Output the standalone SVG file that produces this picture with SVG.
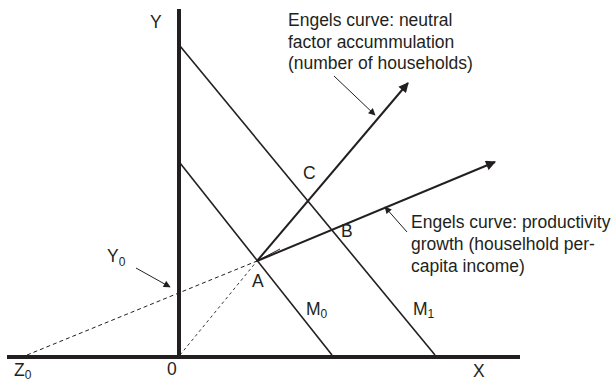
<svg xmlns="http://www.w3.org/2000/svg" width="612" height="382" viewBox="0 0 612 382">
<style>
text{font-family:"Liberation Sans",Arial,sans-serif;fill:#231f20;}
.lbl{font-size:17.5px;}
.sub{font-size:12px;}
.ann{font-size:17.5px;}
.axis{stroke:#231f20;stroke-width:4;fill:none;}
.budget{stroke:#231f20;stroke-width:1.6;fill:none;}
.engel{stroke:#231f20;stroke-width:2;fill:none;}
.dash1{stroke:#231f20;stroke-width:1;stroke-dasharray:4 3;fill:none;}
.dash2{stroke:#231f20;stroke-width:0.9;stroke-dasharray:3 3;fill:none;}
.ptr{stroke:#231f20;stroke-width:1;fill:none;}
</style>
<defs>
<marker id="ah" viewBox="0 0 10 10" refX="9" refY="5" markerWidth="5.5" markerHeight="5" orient="auto" markerUnits="strokeWidth">
<path d="M0,0 L10,5 L0,10 Z" fill="#231f20"/>
</marker>
<marker id="ahs" viewBox="0 0 10 10" refX="9" refY="5" markerWidth="8" markerHeight="7" orient="auto" markerUnits="strokeWidth">
<path d="M0,0 L10,5 L0,10 Z" fill="#231f20"/>
</marker>
</defs>
<g id="connectors">
<line class="axis" x1="179" y1="9" x2="179" y2="357"/>
<line class="axis" x1="7" y1="357" x2="520" y2="357"/>
<line class="budget" x1="180" y1="163" x2="332" y2="355"/>
<line class="budget" x1="180" y1="46" x2="435" y2="355"/>
<line class="dash1" x1="27" y1="355" x2="257" y2="261"/>
<line class="dash2" x1="180" y1="355" x2="257" y2="261"/>
<line class="engel" x1="257" y1="261" x2="408" y2="83" marker-end="url(#ah)"/>
<line class="engel" x1="257" y1="261" x2="495" y2="162" marker-end="url(#ah)"/>
<line class="ptr" x1="257" y1="261" x2="280" y2="249"/>
<line class="ptr" x1="334" y1="76" x2="375" y2="115" marker-end="url(#ahs)"/>
<line class="ptr" x1="407" y1="232" x2="385" y2="207" marker-end="url(#ahs)"/>
<line class="ptr" x1="136" y1="268" x2="170" y2="287" marker-end="url(#ahs)"/>
</g>
<g id="axis-y"><text class="lbl" x="150" y="28">Y</text></g>
<g id="axis-x"><text class="lbl" x="473" y="377">X</text></g>
<g id="origin"><text class="lbl" x="167" y="375">0</text></g>
<g id="Z0"><text class="lbl" x="14" y="376">Z<tspan class="sub" dy="3">0</tspan></text></g>
<g id="Y0"><text class="lbl" x="107" y="262">Y<tspan class="sub" dy="4">0</tspan></text></g>
<g id="A"><text class="lbl" x="252" y="287">A</text></g>
<g id="B"><text class="lbl" x="341" y="237">B</text></g>
<g id="C"><text class="lbl" x="303" y="179">C</text></g>
<g id="M0"><text class="lbl" x="306" y="315">M<tspan class="sub" dy="3">0</tspan></text></g>
<g id="M1"><text class="lbl" x="413" y="315">M<tspan class="sub" dy="3">1</tspan></text></g>
<g id="note-neutral">
<text class="ann" x="288" y="26">Engels curve:  neutral</text>
<text class="ann" x="288" y="47.5">factor accummulation</text>
<text class="ann" x="288" y="69">(number of households)</text>
</g>
<g id="note-productivity">
<text class="ann" x="411" y="228">Engels curve: productivity</text>
<text class="ann" x="411" y="250">growth (houselhold per-</text>
<text class="ann" x="411" y="272">capita income)</text>
</g>
</svg>
